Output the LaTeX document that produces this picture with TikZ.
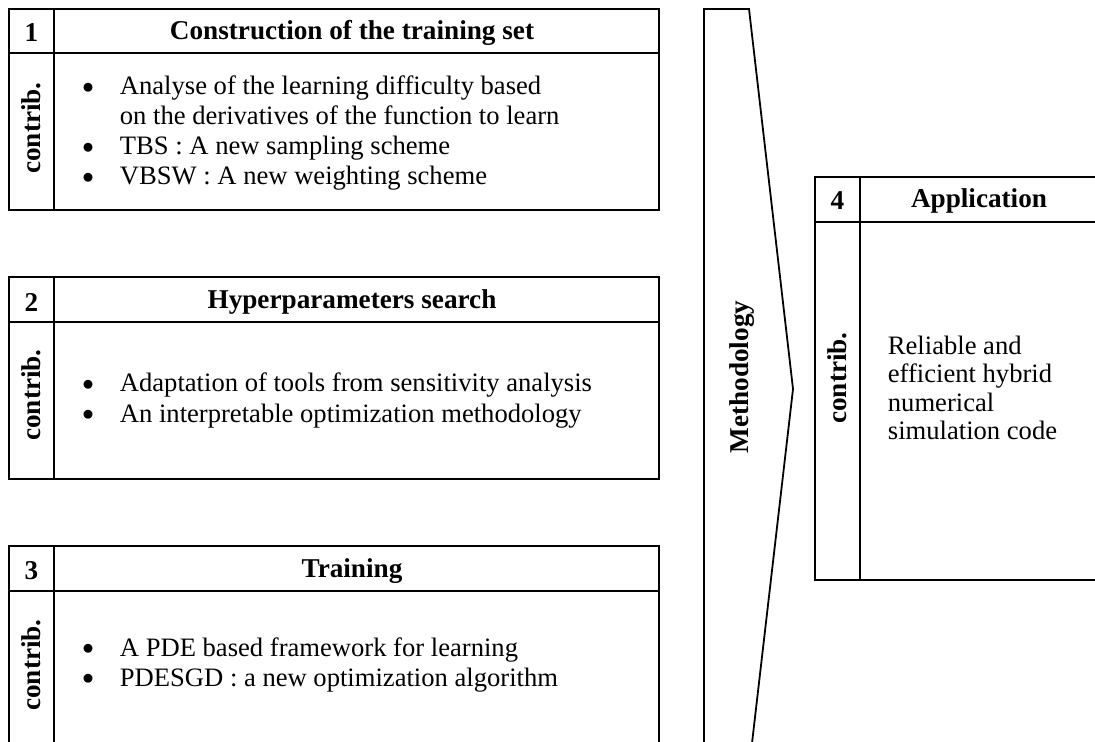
\documentclass[tikz,border=0pt]{standalone}
\usepackage{fontspec}
\setmainfont{Liberation Serif}
\newcommand\mybul{\raisebox{0.12ex}{\scalebox{0.8}{$\bullet$}}}
\begin{document}
\begin{tikzpicture}[x=0.5pt,y=-0.5pt,line width=0.9pt,
  hdr/.style={font=\bfseries\fontsize{13.6}{15}\selectfont, inner sep=0pt},
  vlab/.style={font=\bfseries\fontsize{13.6}{15}\selectfont, rotate=90, inner sep=0pt},
  body/.style={font=\fontsize{13.3}{15}\selectfont, inner sep=0pt, anchor=west, align=left}]
\clip (0,0) rectangle (1095,742);
% ---------- box 1
\draw (9,9) rectangle (659,210);
\draw (9,53) -- (659,53);
\draw (54,9) -- (54,210);
\node[hdr] (n1) at (31.5,33) {1};
\node[hdr] (h1) at (352,33) {Construction of the training set};
\node[vlab] (c1) at (31.5,128) {contrib.};
\node[body] (l1) at (81.5,134) {\begin{tabular}{@{}c@{\hspace{13pt}}l@{}}
\mybul & Analyse of the learning difficulty based\\
 & on the derivatives of the function to learn\\
\mybul & TBS : A new sampling scheme\\
\mybul & VBSW : A new weighting scheme
\end{tabular}};
% ---------- box 2
\draw (9,277) rectangle (659,479);
\draw (9,322) -- (659,322);
\draw (54,277) -- (54,479);
\node[hdr] (n2) at (31.5,302) {2};
\node[hdr] (h2) at (352,302) {Hyperparameters search};
\node[vlab] (c2) at (31.5,395) {contrib.};
\node[body] (l2) at (81.5,401) {\begin{tabular}{@{}c@{\hspace{13pt}}l@{}}
\mybul & Adaptation of tools from sensitivity analysis\\
\mybul & An interpretable optimization methodology
\end{tabular}};
% ---------- box 3
\draw (9,546) rectangle (659,747);
\draw (9,591) -- (659,591);
\draw (54,546) -- (54,747);
\node[hdr] (n3) at (31.5,571) {3};
\node[hdr] (h3) at (352,571) {Training};
\node[vlab] (c3) at (31.5,665) {contrib.};
\node[body] (l3) at (81.5,665) {\begin{tabular}{@{}c@{\hspace{13pt}}l@{}}
\mybul & A PDE based framework for learning\\
\mybul & PDESGD : a new optimization algorithm
\end{tabular}};
% ---------- methodology arrow
\draw[line join=miter] (704,9) -- (749,9) -- (793,389) -- (749,769) -- (704,769) -- cycle;
\node[vlab] (m) at (742,377) {Methodology};
% ---------- box 4
\draw (815,177) rectangle (1098,580);
\draw (815,222) -- (1098,222);
\draw (860,177) -- (860,580);
\node[hdr] (n4) at (837.5,201) {4};
\node[hdr] (h4) at (979,201) {Application};
\node[vlab] (c4) at (837.5,378) {contrib.};
\node[body, font=\fontsize{13.3}{14.2}\selectfont] (l4) at (887,388) {Reliable and\\efficient hybrid\\numerical\\simulation code};
\end{tikzpicture}
\end{document}
